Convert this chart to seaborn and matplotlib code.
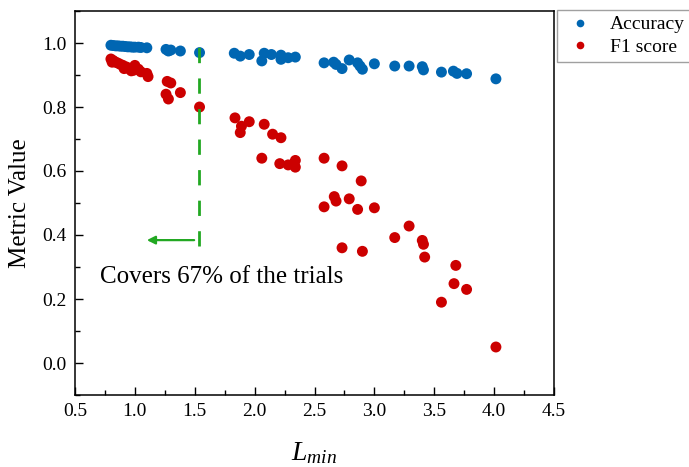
import numpy as np
import pandas as pd
import matplotlib
matplotlib.use("Agg")
import matplotlib.pyplot as plt
from matplotlib.ticker import MultipleLocator
import seaborn as sns

# Accuracy per trial, against the minimum length L_min
acc_x = [0.80, 0.82, 0.84, 0.86, 0.88, 0.90, 0.92, 0.94, 0.96, 0.98, 1.00, 1.03,
         1.05, 1.10, 1.26, 1.28, 1.30, 1.38, 1.54,
         1.83, 1.88, 1.955, 2.06, 2.08, 2.14, 2.22, 2.22, 2.28, 2.34, 2.58, 2.66,
         2.68, 2.73, 2.79, 2.86, 2.88, 2.90, 3.00, 3.17, 3.29, 3.40, 3.41, 3.56,
         3.66, 3.69, 3.77, 4.015]
acc_y = [0.993, 0.992, 0.991, 0.991, 0.990, 0.990, 0.989, 0.988, 0.988, 0.987,
         0.987, 0.987, 0.986, 0.985, 0.980, 0.975, 0.978, 0.975, 0.970,
         0.968, 0.959, 0.964, 0.944, 0.968, 0.964, 0.962, 0.949, 0.954, 0.956,
         0.938, 0.940, 0.933, 0.920, 0.947, 0.938, 0.928, 0.918, 0.935, 0.928,
         0.928, 0.926, 0.916, 0.909, 0.912, 0.905, 0.904, 0.888]

# F1 score per trial
f1_x = [0.80, 0.81, 0.82, 0.84, 0.86, 0.88, 0.90, 0.91, 0.93, 0.95, 0.97, 0.99,
        1.00, 1.03, 1.05, 1.10, 1.11, 1.27, 1.30, 1.26, 1.28, 1.38, 1.54,
        1.836, 1.88, 1.89, 1.955, 2.06, 2.08, 2.15, 2.21, 2.22, 2.28, 2.34, 2.34,
        2.58, 2.58, 2.665, 2.68, 2.73, 2.73, 2.79, 2.86, 2.89, 2.90, 3.00, 3.17,
        3.29, 3.40, 3.41, 3.42, 3.56, 3.665, 3.68, 3.77, 4.015]
f1_y = [0.950, 0.940, 0.945, 0.940, 0.937, 0.933, 0.930, 0.920, 0.925, 0.920,
        0.913, 0.915, 0.930, 0.918, 0.910, 0.905, 0.895, 0.880, 0.875, 0.840,
        0.825, 0.845, 0.800,
        0.766, 0.720, 0.740, 0.754, 0.640, 0.746, 0.715, 0.623, 0.704, 0.619,
        0.633, 0.612, 0.640, 0.488, 0.520, 0.506, 0.616, 0.360, 0.513, 0.480,
        0.569, 0.349, 0.485, 0.392, 0.428, 0.383, 0.371, 0.331, 0.190, 0.248,
        0.305, 0.230, 0.050]

metric_names = ["Accuracy", "F1 score"]
metric_colors = ["#0066B2", "#CC0000"]
cutoff = 1.535
share_text = "Covers 67% of the trials"

df = pd.concat([
    pd.DataFrame({"L": acc_x, "value": acc_y, "metric": metric_names[0]}),
    pd.DataFrame({"L": f1_x, "value": f1_y, "metric": metric_names[1]}),
], ignore_index=True)

sns.set_theme(style="ticks")
plt.rcParams["font.family"] = ["Liberation Serif", "DejaVu Serif"]
plt.rcParams["mathtext.fontset"] = "custom"
plt.rcParams["mathtext.rm"] = "Liberation Serif"
plt.rcParams["mathtext.it"] = "Liberation Serif:italic"
for key in ["text.color", "axes.labelcolor", "xtick.color", "ytick.color",
            "axes.edgecolor"]:
    plt.rcParams[key] = "black"

fig = plt.figure(figsize=(6.89, 4.67), dpi=100)
ax = fig.add_axes([75 / 689, 1 - 395 / 467, (554 - 75) / 689, (395 - 11) / 467])

sns.scatterplot(data=df, x="L", y="value", hue="metric",
                palette=dict(zip(metric_names, metric_colors)),
                s=62, linewidth=0, edgecolor="none", ax=ax, legend=True,
                zorder=2)

ax.set_xlim(0.5, 4.5)
ax.set_ylim(-0.1, 1.1)
ax.xaxis.set_major_locator(MultipleLocator(0.5))
ax.xaxis.set_minor_locator(MultipleLocator(0.25))
ax.set_yticks(np.arange(0.0, 1.01, 0.2))
ax.yaxis.set_minor_locator(MultipleLocator(0.1))
ax.tick_params(axis="both", which="major", direction="in", length=6,
               width=1.0, labelsize=14, color="black", pad=6)
ax.tick_params(axis="both", which="minor", direction="in", length=3.5,
               width=1.0, color="black")
for sp in ax.spines.values():
    sp.set_linewidth(1.1)
    sp.set_color("black")

ax.set_xlabel(r"$L_{min}$", fontsize=20, labelpad=14)
ax.set_ylabel("Metric Value", fontsize=18, labelpad=8)

# coverage cutoff and arrow
green = "#22A822"
ax.plot([cutoff, cutoff], [0.366, 1.025], color=green, lw=2,
        linestyle=(0, (5.5, 5.5)), zorder=3)
ax.annotate("", xy=(1.10, 0.384), xytext=(cutoff - 0.04, 0.384),
            arrowprops=dict(arrowstyle="-|>", color=green, lw=1.6,
                            mutation_scale=12, shrinkA=0, shrinkB=0))
ax.text(0.705, 0.27, share_text, fontsize=18, ha="left", va="center")

handles, labels = ax.get_legend_handles_labels()
leg = ax.legend(handles, labels, loc="upper left",
                bbox_to_anchor=(557 / 689, 1 - 10 / 467),
                bbox_transform=fig.transFigure, frameon=True, fancybox=False,
                fontsize=14, markerscale=0.7, handletextpad=0.6,
                borderpad=0.3, labelspacing=0.25, borderaxespad=0,
                handlelength=1.8, title=None)
leg.get_frame().set_edgecolor("#888888")
leg.get_frame().set_linewidth(1.0)

fig.savefig("out.png", dpi=100)
